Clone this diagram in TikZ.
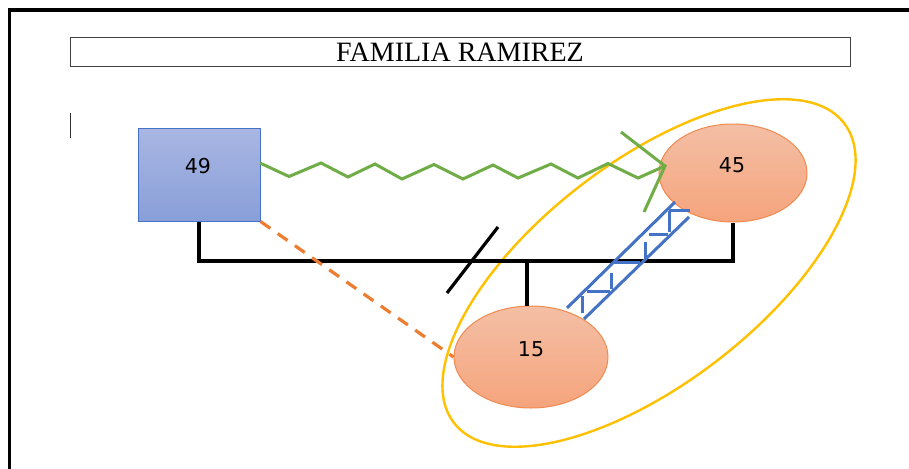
\documentclass[tikz,border=0pt]{standalone}
\usepackage{fontspec}
\setmainfont{Liberation Serif}
\newfontfamily\numfont{DejaVu Sans}
\usetikzlibrary{shapes.geometric}
\definecolor{boxblue}{HTML}{4472C4}
\definecolor{sqtop}{HTML}{A9B6E2}
\definecolor{sqbot}{HTML}{899FD9}
\definecolor{salmtop}{HTML}{F4BFA5}
\definecolor{salmbot}{HTML}{F5A47C}
\definecolor{salmline}{HTML}{F08A50}
\definecolor{zgreen}{HTML}{70AD47}
\definecolor{dorange}{HTML}{ED7D31}
\definecolor{ygold}{HTML}{FFC000}
\begin{document}
\begin{tikzpicture}[x=1pt,y=-1pt,
  sqnode/.style={draw=boxblue, line width=1pt, top color=sqtop, bottom color=sqbot,
    minimum width=122pt, minimum height=93pt, inner sep=0pt},
  ovnode/.style={ellipse, draw=salmline, line width=1pt, top color=salmtop, bottom color=salmbot, inner sep=0pt},
  numtxt/.style={font=\numfont\fontsize{20.5}{20.5}\selectfont, inner sep=0pt},
  titlebox/.style={draw=black!75, line width=1pt, minimum width=780pt, minimum height=29pt, inner sep=0pt,
    font=\fontsize{28}{28}\selectfont},
  famline/.style={line width=3.2pt, black},
  zigline/.style={line width=3pt, zgreen, line join=miter},
  ladder/.style={line width=3pt, boxblue},
  cutline/.style={line width=3.2pt, black},
  distline/.style={line width=3.2pt, dorange, dash pattern=on 12pt off 9pt},
  groupline/.style={line width=2.4pt, ygold},
  frameline/.style={line width=3.6pt, black}
]
\useasboundingbox (0,0) rectangle (909,468);
\fill[white] (0,0) rectangle (909,468);
% outer frame
\draw[frameline] (9.5,470) -- (9.5,10) -- (912,10);
% title
\node[titlebox] (title) at (460,52.5) {FAMILIA RAMIREZ};
% cursor
\draw[line width=1pt, black!80] (70,113) -- (70,138);
% group ellipse
\draw[groupline, rotate around={37.5:(649,273)}] (649,273) ellipse [x radius=246, y radius=111];
% persons
\node[sqnode] (sq) at (199,174.5) {};
\node[ovnode, minimum width=148pt, minimum height=98pt] (e45) at (733,173) {};
\node[ovnode, minimum width=154pt, minimum height=102pt] (e15) at (531,357) {};
\node[numtxt] (t49) at (198,166) {49};
\node[numtxt] (t45) at (732,165) {45};
\node[numtxt] (t15) at (531,349) {15};
% family lines
\coordinate (famL) at (sq.south |- 0,261);
\coordinate (famR) at (e45.south |- 0,261);
\coordinate (child) at (527,261);
\draw[famline] (sq.south) -- (famL) -- (famR) -- (e45.south);
\draw[famline] (child) -- (child |- e15.north);
% divorce mark
\coordinate (cutA) at (447,293);
\coordinate (cutB) at (498,227);
\draw[cutline] (cutA) -- (cutB);
% distant relationship
\draw[distline] (sq.south east) -- (e15.west);
% zigzag relationship
\coordinate (zs) at (260,163);
\coordinate (zt) at (665,166);
\draw[zigline] (zs) -- (289,176.5) -- (321,163) -- (348,177) -- (375,164) -- (402,179) -- (434,164.5)
  -- (463,179) -- (493,165) -- (518,178) -- (551,164) -- (578,178) -- (608,163.5) -- (638,178) -- (zt);
\draw[zigline] (621,132) -- (zt) -- (644,212);
% ladder relationship
\coordinate (la1) at (567,308);
\coordinate (la2) at (675,202);
\coordinate (lb1) at (584,319);
\coordinate (lb2) at (689,217);
\draw[ladder] (la1) -- (la2);
\draw[ladder] (lb1) -- (lb2);
\draw[ladder] (582,313) -- (582,296);
\draw[ladder] (587,291) -- (610,291);
\draw[ladder] (611.5,289) -- (611.5,273);
\draw[ladder] (614,262) -- (640,262);
\draw[ladder] (645,260) -- (645,242);
\draw[ladder] (649,234) -- (668,234);
\draw[ladder] (669,232) -- (669,211);
\draw[ladder] (669,210) -- (690,210);
\end{tikzpicture}
\end{document}
